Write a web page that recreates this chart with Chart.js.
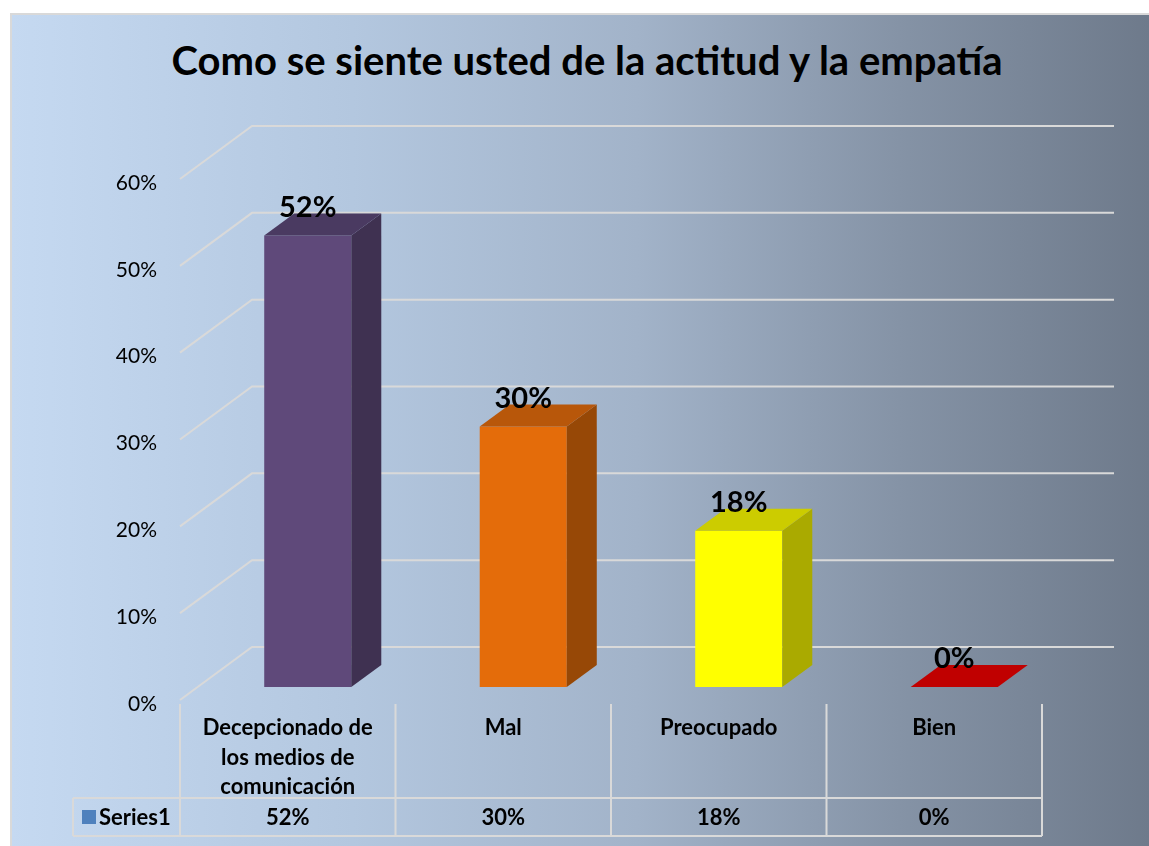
<!DOCTYPE html>
<html>
<head>
<meta charset="utf-8">
<script src="https://cdn.jsdelivr.net/npm/chart.js@4.4.1/dist/chart.umd.min.js"></script>
<style>
    html, body { margin: 0; padding: 0; background: #fff; }
    #frame {
        position: absolute; left: 10px; top: 13px; width: 1139px; height: 833px;
        box-sizing: border-box; border: 2px solid #d9d9d9; border-right: none; border-bottom: none;
        background: linear-gradient(to right, #c5d9f1 0%, #b3c7df 30%, #a2b3c9 55%, #8593a6 78%, #6e7a8b 100%);
    }
    #title {
        position: absolute; left: 0; top: 36px; width: 1174px; text-align: center;
        font: bold 40px Lato, "Open Sans", sans-serif; color: #000;
    }
    #chart { position: absolute; left: 0; top: 0; }
</style>
</head>
<body>
<div id="frame"></div>
<div id="title">Como se siente usted de la actitud y la empatía</div>
<canvas id="chart" width="1149" height="846"></canvas>
<script>
    const categories = [['Decepcionado de', 'los medios de', 'comunicación'], 'Mal', 'Preocupado', 'Bien'];
    const values = [52, 30, 18, 0];
    const seriesName = 'Series1';
    const yMax = 60;
    const yStep = 10;

    const frontColors = ['#5f497a', '#e46c0a', '#ffff00', '#c00000'];
    const topColors = ['#4a3a61', '#b8570a', '#cccc00', '#c00000'];
    const sideColors = ['#3f3151', '#974806', '#aaaa00', '#990000'];

    const gridColor = '#d9d9d9';
    const fontFamily = 'Lato, "Open Sans", sans-serif';

    // 3D offsets: bar plane sits a bit behind the front wall
    const wallDepth = { dx: 72, dy: 53 };
    const barShift = { dx: 20, dy: 13 };
    const barDepth = { dx: 30, dy: 22 };

    function pct(v) {
        return v + '%';
    }

    const threeD = {
        id: 'threeD',
        beforeDatasetsDraw(chart) {
            const { ctx, chartArea: area, scales: { y } } = chart;
            const x0 = area.left - barShift.dx;
            const x1 = area.right - barShift.dx;
            ctx.save();
            ctx.strokeStyle = gridColor;
            ctx.lineWidth = 2;
            y.ticks.forEach(t => {
                const yf = y.getPixelForValue(t.value) + barShift.dy;
                ctx.beginPath();
                ctx.moveTo(x0, yf);
                ctx.lineTo(x0 + wallDepth.dx, yf - wallDepth.dy);
                ctx.lineTo(x1 + wallDepth.dx, yf - wallDepth.dy);
                ctx.stroke();
            });
            ctx.restore();
        },
        afterDatasetsDraw(chart) {
            const { ctx } = chart;
            const bars = chart.getDatasetMeta(0).data;
            ctx.save();
            bars.forEach((bar, i) => {
                const l = bar.x - bar.width / 2;
                const r = bar.x + bar.width / 2;
                // side
                ctx.fillStyle = sideColors[i];
                ctx.beginPath();
                ctx.moveTo(r, bar.y);
                ctx.lineTo(r + barDepth.dx, bar.y - barDepth.dy);
                ctx.lineTo(r + barDepth.dx, bar.base - barDepth.dy);
                ctx.lineTo(r, bar.base);
                ctx.closePath();
                ctx.fill();
                // top
                ctx.fillStyle = topColors[i];
                ctx.beginPath();
                ctx.moveTo(l, bar.y);
                ctx.lineTo(r, bar.y);
                ctx.lineTo(r + barDepth.dx, bar.y - barDepth.dy);
                ctx.lineTo(l + barDepth.dx, bar.y - barDepth.dy);
                ctx.closePath();
                ctx.fill();
            });
            // value labels
            ctx.fillStyle = '#000';
            ctx.font = 'bold 29px ' + fontFamily;
            ctx.textAlign = 'center';
            ctx.textBaseline = 'middle';
            bars.forEach((bar, i) => {
                ctx.fillText(pct(values[i]), bar.x, bar.y - 28);
            });
            ctx.restore();
        },
        afterDraw(chart) {
            // data table under the axis
            const { ctx, chartArea: area, scales: { x } } = chart;
            const colW = (area.right - area.left) / categories.length;
            const left = area.left - barShift.dx;
            const top = area.bottom + 17;
            const rowTop = 798;
            const rowBottom = 836;
            const keyLeft = 73;
            ctx.save();
            ctx.strokeStyle = gridColor;
            ctx.lineWidth = 2;
            ctx.beginPath();
            for (let i = 0; i <= categories.length; i++) {
                ctx.moveTo(left + i * colW, top);
                ctx.lineTo(left + i * colW, rowBottom);
            }
            ctx.moveTo(keyLeft, rowTop);
            ctx.lineTo(left + categories.length * colW, rowTop);
            ctx.moveTo(keyLeft, rowBottom);
            ctx.lineTo(left + categories.length * colW, rowBottom);
            ctx.moveTo(keyLeft, rowTop);
            ctx.lineTo(keyLeft, rowBottom);
            ctx.stroke();

            const cy = (rowTop + rowBottom) / 2;
            ctx.fillStyle = '#4f81bd';
            ctx.fillRect(keyLeft + 9, cy - 7, 14, 14);
            ctx.fillStyle = '#000';
            ctx.font = 'bold 22px ' + fontFamily;
            ctx.textBaseline = 'middle';
            ctx.textAlign = 'left';
            ctx.fillText(seriesName, keyLeft + 26, cy + 1);
            ctx.textAlign = 'center';
            values.forEach((v, i) => {
                ctx.fillText(pct(v), x.getPixelForValue(i) - barShift.dx, cy + 1);
            });
            ctx.restore();
        }
    };

    new Chart(document.getElementById('chart'), {
        type: 'bar',
        data: {
            labels: categories,
            datasets: [{
                label: seriesName,
                data: values,
                backgroundColor: frontColors,
                borderWidth: 0,
                barPercentage: 0.404,
                categoryPercentage: 1
            }]
        },
        options: {
            responsive: false,
            animation: false,
            devicePixelRatio: 1,
            layout: { padding: { left: 0, right: 87, top: 166, bottom: 0 } },
            plugins: {
                legend: { display: false },
                tooltip: { enabled: false },
                title: { display: false }
            },
            scales: {
                x: {
                    grid: { display: false, drawTicks: false },
                    border: { display: false },
                    afterFit(scale) { scale.height = 159; },
                    ticks: {
                        autoSkip: false,
                        maxRotation: 0,
                        padding: 26,
                        labelOffset: -barShift.dx,
                        color: '#000',
                        font: { family: fontFamily, size: 22, weight: 'bold', lineHeight: 1.35 }
                    }
                },
                y: {
                    min: 0,
                    max: yMax,
                    grid: { display: false, drawTicks: false },
                    border: { display: false },
                    afterFit(scale) { scale.width = 200; },
                    ticks: {
                        stepSize: yStep,
                        padding: 43,
                        labelOffset: 17,
                        color: '#000',
                        font: { family: fontFamily, size: 21 },
                        callback: pct
                    }
                }
            }
        },
        plugins: [threeD]
    });
</script>
</body>
</html>
